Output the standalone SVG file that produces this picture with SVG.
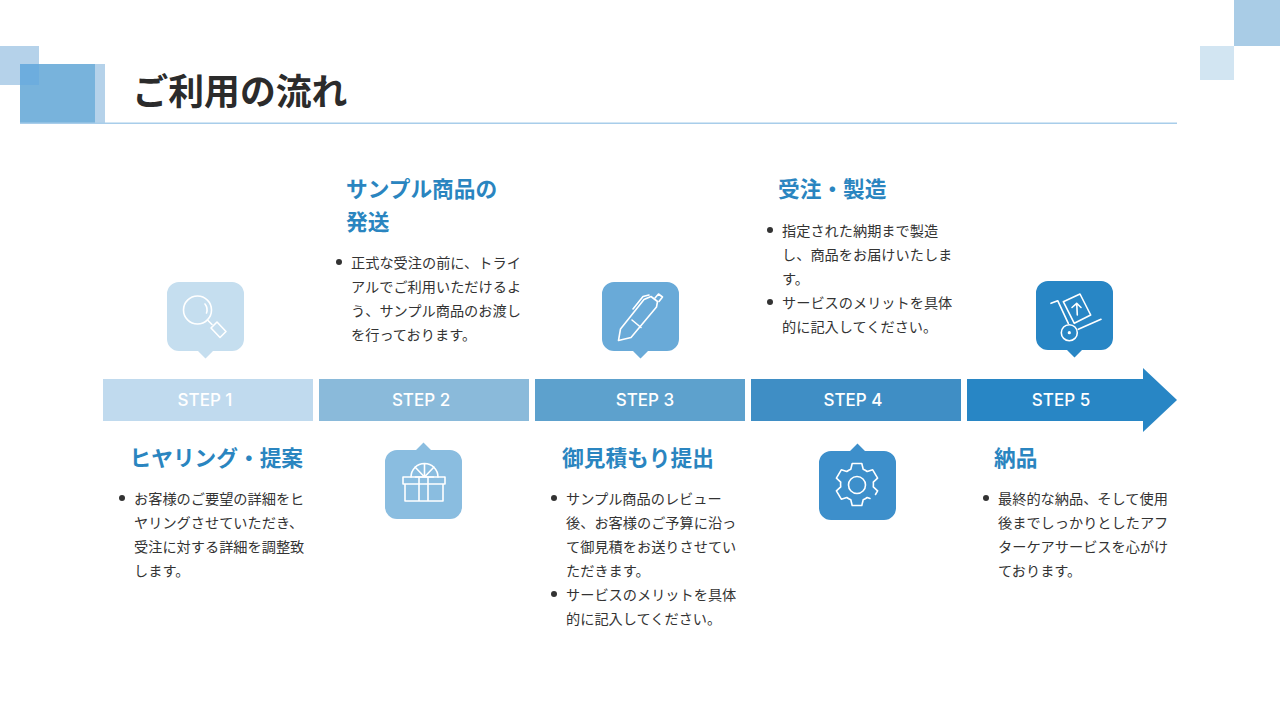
<svg xmlns="http://www.w3.org/2000/svg" width="1280" height="720" viewBox="0 0 1280 720">
<style>
.t{font-family:"Noto Sans CJK JP","Noto Sans",sans-serif}
.h{font-size:21.7px;font-weight:700;fill:#2a85c0}
.b{font-size:14.2px;fill:#333}
.s{font-family:Inter,"Liberation Sans",sans-serif;font-size:17px;font-weight:500;fill:#fff;text-anchor:middle}
.i{fill:none;stroke:#fff;stroke-width:1.6;stroke-linecap:round;stroke-linejoin:round}
</style>
<rect width="1280" height="720" fill="#fff"/>
<g id="decor">
<rect x="0" y="46" width="39" height="39" fill="#b5d2ea"/>
<rect x="95" y="64" width="10" height="59" fill="#b5d2ea"/>
<rect x="20" y="64" width="75" height="59" fill="#78b3dc"/>
<rect x="20" y="64" width="19" height="21" fill="#6dadde"/>
<rect x="1234" y="0" width="46" height="46" fill="#a9cce6"/>
<rect x="1200" y="46" width="34" height="34" fill="#d2e5f2"/>
<rect x="20" y="122.500" width="1157" height="1.500" fill="#a8cdea"/>
</g>
<text id="title" class="t" x="132.500" y="104.500" font-size="35.800" font-weight="700" fill="#2b2b2b">ご利用の流れ</text>
<g id="step1">
<rect x="103" y="379" width="210" height="42" fill="#c0daee"/>
<text class="s" x="205" y="406">STEP 1</text>
<path d="M179 282H232a12 12 0 0 1 12 12V339a12 12 0 0 1-12 12H213l-7.500 7.500-7.500-7.500H179a12 12 0 0 1-12-12V294a12 12 0 0 1 12-12Z" fill="#c5deef"/>
<g class="i"><circle cx="197.500" cy="310" r="14"/><path d="M205 304a9.500 9.500 0 0 1 1.500 9"/><path d="M207.500 320l4.500 4.500"/><path d="M211 328l6-6 9 9.500-6 6Z"/></g>
<text class="t h" x="129.500" y="466">ヒヤリング・提案</text>
<circle cx="122" cy="498" r="3" fill="#333"/>
<text class="t b"><tspan x="134" y="504">お客様のご要望の詳細をヒ</tspan><tspan x="134" y="528">ヤリングさせていただき、</tspan><tspan x="134" y="552">受注に対する詳細を調整致</tspan><tspan x="134" y="576">します。</tspan></text>
</g>
<g id="step2">
<rect x="319" y="379" width="210" height="42" fill="#8abada"/>
<text class="s" x="421" y="406">STEP 2</text>
<path d="M397 450H416l7.500-7.500 7.500 7.500H450a12 12 0 0 1 12 12V507a12 12 0 0 1-12 12H397a12 12 0 0 1-12-12V462a12 12 0 0 1 12-12Z" fill="#8abde0"/>
<g class="i"><path d="M403 477H445V484H403ZM405 484V501H443V484M419 477V501M428 477V501"/><path d="M411 477a13.500 13.500 0 0 1 27 0M424.500 477V464M424.500 477L415 467M424.500 477L434 467M424.500 477h-9M424.500 477h9"/></g>
<text class="t h"><tspan x="346" y="197">サンプル商品の</tspan><tspan x="346" y="230">発送</tspan></text>
<circle cx="339" cy="262" r="3" fill="#333"/>
<text class="t b"><tspan x="351" y="268">正式な受注の前に、トライ</tspan><tspan x="351" y="292">アルでご利用いただけるよ</tspan><tspan x="351" y="316">う、サンプル商品のお渡し</tspan><tspan x="351" y="340">を行っております。</tspan></text>
</g>
<g id="step3">
<rect x="535" y="379" width="210" height="42" fill="#5da1cd"/>
<text class="s" x="645" y="406">STEP 3</text>
<path d="M614 282H667a12 12 0 0 1 12 12V339a12 12 0 0 1-12 12H648l-7.500 7.500-7.500-7.500H614a12 12 0 0 1-12-12V294a12 12 0 0 1 12-12Z" fill="#69aad8"/>
<g class="i"><path d="M618.500 340.500L620.500 329 644 299.500 651 296.500 657.500 301.500 656.500 307 631 337.500ZM632 320L641 327.500M633 309L643 296.500 649 295"/><path d="M655 298L658.500 294 662.500 297 659 301.500"/></g>
<text class="t h" x="562" y="466">御見積もり提出</text>
<circle cx="554" cy="498" r="3" fill="#333"/>
<circle cx="554" cy="594" r="3" fill="#333"/>
<text class="t b"><tspan x="566" y="504">サンプル商品のレビュー</tspan><tspan x="566" y="528">後、お客様のご予算に沿っ</tspan><tspan x="566" y="552">て御見積をお送りさせてい</tspan><tspan x="566" y="576">ただきます。</tspan><tspan x="566" y="600">サービスのメリットを具体</tspan><tspan x="566" y="624">的に記入してください。</tspan></text>
</g>
<g id="step4">
<rect x="751" y="379" width="210" height="42" fill="#3f8ec5"/>
<text class="s" x="853" y="406">STEP 4</text>
<path d="M831 451H850l7.500-7.500 7.500 7.500H884a12 12 0 0 1 12 12V508a12 12 0 0 1-12 12H831a12 12 0 0 1-12-12V463a12 12 0 0 1 12-12Z" fill="#3d8fcb"/>
<g class="i" stroke-width="1.800"><circle cx="857" cy="485" r="8.500"/><path d="M877.600 490.800L873.300 486.800A16.500 16.500 0 0 0 873.300 482.200L877.600 478.200 872.700 469.800 867.200 471.500A16.500 16.500 0 0 0 863.200 469.200L861.800 463.500H852.200L850.800 469.200A16.500 16.500 0 0 0 846.800 471.500L841.300 469.800 836.400 478.200 840.700 482.200A16.500 16.500 0 0 0 840.700 486.800L836.400 490.800 841.300 499.200 846.800 497.500A16.500 16.500 0 0 0 850.800 499.800L852.200 505.500H861.800L863.200 499.800A16.500 16.500 0 0 0 867.200 497.500L870 498.500M877.600 490.800L875.500 494.500"/></g>
<text class="t h" x="778" y="197">受注・製造</text>
<circle cx="770" cy="230" r="3" fill="#333"/>
<circle cx="770" cy="302" r="3" fill="#333"/>
<text class="t b"><tspan x="782" y="236">指定された納期まで製造</tspan><tspan x="782" y="260">し、商品をお届けいたしま</tspan><tspan x="782" y="284">す。</tspan><tspan x="782" y="308">サービスのメリットを具体</tspan><tspan x="782" y="332">的に記入してください。</tspan></text>
</g>
<g id="step5">
<path d="M967 379H1143V368L1177 400 1143 432V421H967Z" fill="#2886c5"/>
<text class="s" x="1061" y="406">STEP 5</text>
<path d="M1048 281H1101a12 12 0 0 1 12 12V338a12 12 0 0 1-12 12H1082l-7.500 7.500-7.500-7.500H1048a12 12 0 0 1-12-12V293a12 12 0 0 1 12-12Z" fill="#2886c5"/>
<g class="i"><path d="M1051 303.300L1057.700 300.700 1068.300 323.300M1078.300 329.300L1101 319.300"/><path d="M1063.300 301.700L1080 294 1090.700 315 1074.300 323.300ZM1077.300 315L1076.700 303.300M1072 307.500L1076.700 303.300 1081 307.500"/><circle cx="1069.300" cy="332.700" r="8"/></g>
<circle cx="1069.300" cy="332.700" r="1.600" fill="#fff"/>
<text class="t h" x="994" y="466">納品</text>
<circle cx="986" cy="498" r="3" fill="#333"/>
<text class="t b"><tspan x="998" y="504">最終的な納品、そして使用</tspan><tspan x="998" y="528">後までしっかりとしたアフ</tspan><tspan x="998" y="552">ターケアサービスを心がけ</tspan><tspan x="998" y="576">ております。</tspan></text>
</g>
</svg>
